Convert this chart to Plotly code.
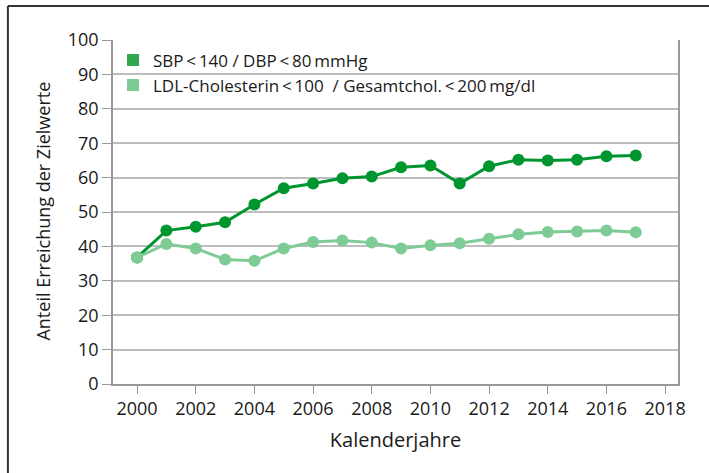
import plotly.graph_objects as go

# Calendar years and share of patients reaching target values (%)
years = list(range(2000, 2018))
bp_target = [36.8, 44.6, 45.7, 47.0, 52.2, 56.9, 58.3, 59.8, 60.3, 63.0,
             63.5, 58.3, 63.3, 65.2, 65.0, 65.2, 66.2, 66.4]
ldl_target = [36.8, 40.7, 39.4, 36.2, 35.8, 39.4, 41.3, 41.7, 41.1, 39.4,
              40.3, 40.9, 42.2, 43.5, 44.2, 44.3, 44.6, 44.1]

series_names = ["SBP\u2009<\u2009140 / DBP\u2009<\u200980\u2009mmHg",
                "LDL-Cholesterin\u2009<\u2009100  / Gesamtchol.\u2009<\u2009200\u2009mg/dl"]
line_colors = ["#00962f", "#7fcb95"]
legend_colors = ["#2fa84f", "#7fcb95"]

y_ticks = list(range(0, 101, 10))
x_ticks = list(range(2000, 2019, 2))

FONT = "Open Sans"
fig = go.Figure()

for name, vals, col in zip(series_names, [bp_target, ldl_target], line_colors):
    fig.add_trace(go.Scatter(
        x=years, y=vals, mode="lines+markers",
        line=dict(color=col, width=3),
        marker=dict(color=col, size=12),
        showlegend=False, hoverinfo="x+y"))

# square legend keys
for name, col in zip(series_names, legend_colors):
    fig.add_trace(go.Scatter(
        x=[None], y=[None], mode="markers", name=name,
        marker=dict(color=col, size=14, symbol="square")))

fig.update_layout(
    width=709, height=473,
    margin=dict(l=113, r=31, t=40, b=89),
    paper_bgcolor="white", plot_bgcolor="white",
    font=dict(family=FONT, size=17, color="#1a1a1a"),
    legend=dict(x=0.0, y=0.993, xanchor="left", yanchor="top",
                bgcolor="rgba(0,0,0,0)", font=dict(size=17),
                itemsizing="constant", tracegroupgap=0),
    xaxis=dict(range=[1999.18, 2018.44], tickvals=x_ticks,
               ticks="outside", ticklen=8, tickcolor="#999999",
               tickfont=dict(size=18),
               showline=True, linecolor="#999999", linewidth=1.5,
               showgrid=False, zeroline=False,
               title=dict(text="Kalenderjahre", standoff=14)),
    yaxis=dict(range=[0, 100], tickvals=y_ticks,
               ticks="outside", ticklen=9, tickcolor="#999999",
               tickfont=dict(size=18),
               showline=True, linecolor="#999999", linewidth=1.5, mirror=True,
               showgrid=True, gridcolor="#bdbdbd", gridwidth=1.5,
               zeroline=False),
)

# y-axis title
fig.add_annotation(text="Anteil Erreichung der Zielwerte", textangle=-90,
                   xref="paper", yref="paper", x=-0.124, y=0.504,
                   xanchor="center", yanchor="middle", showarrow=False,
                   font=dict(size=18))

# outer frame: left and top edges
fig.add_shape(type="line", xref="paper", yref="paper",
              x0=-0.186, x1=-0.186, y0=1.0988, y1=-0.27,
              line=dict(color="#333333", width=2))
fig.add_shape(type="line", xref="paper", yref="paper",
              x0=-0.186, x1=1.06, y0=1.0988, y1=1.0988,
              line=dict(color="#333333", width=2))

fig.write_html("out.html")
